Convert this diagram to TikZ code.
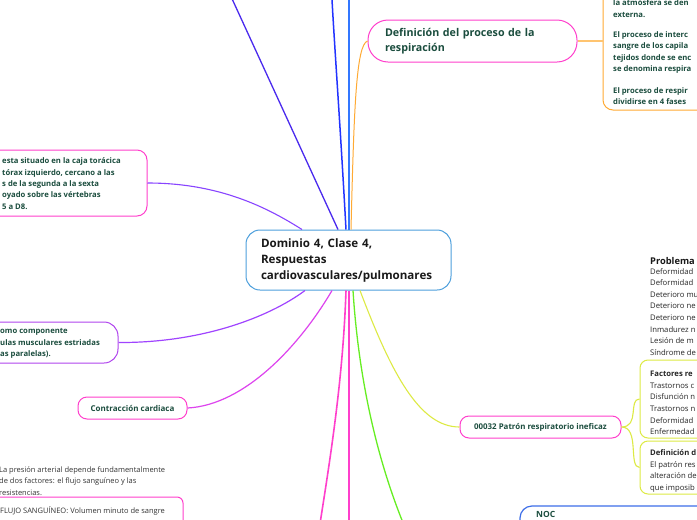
\documentclass[tikz,border=0pt]{standalone}
\usepackage{fontspec}
\setmainfont{Open Sans}
\definecolor{tg}{HTML}{1B4D3E}
\definecolor{tgray}{HTML}{333333}
\definecolor{cblue}{HTML}{4D9FDC}
\definecolor{mag}{HTML}{FF3FCC}
\definecolor{viol}{HTML}{B044EE}
\definecolor{orng}{HTML}{FFAA33}
\definecolor{ylw}{HTML}{DDEA44}
\definecolor{nocblue}{HTML}{3D6EE8}
\definecolor{indig}{HTML}{4A2AEE}
\definecolor{dblue}{HTML}{2233FF}
\definecolor{lblue}{HTML}{3377FF}
\definecolor{purp}{HTML}{8844FF}
\definecolor{violb}{HTML}{A044FF}
\definecolor{magb}{HTML}{DD44EE}
\definecolor{grn}{HTML}{66EE22}
\begin{document}
\begin{tikzpicture}[x=1pt,y=-1pt,
  box/.style={draw, rounded corners=#1, line width=1pt, inner sep=0pt},
  gtext/.style={text=tg, font=\bfseries\fontsize{7.7}{11.4}\selectfont, align=left, inner sep=0pt, anchor=west},
  rtext/.style={text=tgray, font=\fontsize{7.5}{11.4}\selectfont, align=left, inner sep=0pt, anchor=west},
  ltext/.style={text=black!85, font=\fontsize{7.7}{11.6}\selectfont, align=left, inner sep=0pt, anchor=west},
  conn/.style={line width=#1},
]
\useasboundingbox (0,0) rectangle (697,520);
\clip (0,0) rectangle (697,520);
\fill[white] (0,0) rectangle (697,520);

% free ends
\coordinate (topA) at (228,-10);
\coordinate (topB) at (331.5,-10);
\coordinate (topC) at (349,-10);
\coordinate (botA) at (319,530);
\coordinate (botB) at (349,530);
\coordinate (botC) at (406,530);

% central node
\node[box=14pt, draw=cblue, minimum width=205pt, minimum height=60pt, text width=175pt,
      align=left, font=\bfseries\fontsize{11.6}{16}\selectfont, text=black!90] (central) at (348.5,260)
      {Dominio 4, Clase 4,\\Respuestas\\cardiovasculares/pulmonares};

% top connectors
\draw[indig, conn=1.3pt] (central.north -| 338,0) -- (topA);
\draw[dblue, conn=1.5pt] (central.north -| 346,0) .. controls (340,120) and (334,40) .. (topB);
\draw[lblue, conn=1.5pt] (central.north -| 349,0) -- (topC);

% Definicion
\node[box=20pt, draw=mag, minimum width=209pt, minimum height=42pt, text width=175pt,
      align=left, font=\bfseries\fontsize{10.7}{15}\selectfont, text=tg] (def) at (472.5,41)
      {Definición del proceso de la\\respiración};
\draw[orng, conn=1pt] (central.north -| 351,0) .. controls (354,110) and (356,45) .. (def.west);

\node[box=10pt, draw=orng, minimum width=130pt, minimum height=140pt] (fases) at (668,40) {};
\draw[orng!70, conn=1.2pt] (def.east) -- (fases.west |- def.east);
\node[gtext] (f1) at (613,8.5) {la atmósfera se den\\externa.};
\node[gtext] (f2) at (613,52.5) {El proceso de interc\\sangre de los capila\\tejidos donde se enc\\se denomina respira};
\node[gtext] (f3) at (613,96) {El proceso de respir\\dividirse en 4 fases};

% heart location box
\node[box=10pt, draw=mag, minimum width=170pt, minimum height=66pt] (heart) at (62,183) {};
\node[gtext] (heartt) at (2,183.5) {esta situado en la caja torácica\\tórax izquierdo, cercano a las\\s de la segunda a la sexta\\oyado sobre las vértebras\\5 a D8.};
\draw[purp, conn=1.1pt] (heart.east) .. controls (220,183) and (268,208) .. (central.north -| 302,0);

% muscle box
\node[box=14pt, draw=viol, minimum width=148pt, minimum height=41pt] (musc) at (44,342.5) {};
\node[gtext] (musct) at (0,343.5) {omo componente\\ulas musculares estriadas\\as paralelas).};
\draw[violb, conn=1.2pt] (musc.east) .. controls (200,343) and (268,318) .. (central.south -| 305,0);

% Contraccion
\node[box=9pt, draw=mag, minimum width=109pt, minimum height=22pt,
      font=\bfseries\fontsize{8}{9}\selectfont, text=tg] (contr) at (132.5,408) {Contracción cardiaca};
\draw[magb, conn=1.2pt] (contr.east) .. controls (245,405) and (300,345) .. (central.south -| 332,0);

% bottom connectors
\draw[mag, conn=1.6pt] (central.south -| 346,0) .. controls (343,380) and (330,460) .. (botA);
\draw[mag, conn=2pt] (central.south -| 349,0) -- (botB);
\draw[grn, conn=1.3pt] (central.south -| 353,0) .. controls (360,400) and (385,480) .. (botC);

% Patron respiratorio
\node[box=9pt, draw=mag, minimum width=161pt, minimum height=22pt,
      font=\bfseries\fontsize{7.9}{9}\selectfont, text=tg] (patron) at (540.5,427) {00032 Patrón respiratorio ineficaz};
\draw[ylw, conn=1.1pt] (central.south -| 360,0) .. controls (392,375) and (420,427) .. (patron.west);

\node[box=8pt, draw=ylw, minimum width=100pt, minimum height=78pt] (fact) at (690,399) {};
\node[box=8pt, draw=ylw, minimum width=100pt, minimum height=53pt] (defd) at (690,467.5) {};
\draw[ylw, conn=1.1pt] (patron.east) .. controls (640,427) and (628,399) .. (fact.west);
\draw[ylw, conn=1.1pt] (patron.east) .. controls (640,427) and (628,467.5) .. (defd.west);

\node[ltext] (factt) at (650,403) {\textbf{Factores re}\\Trastornos c\\Disfunción n\\Trastornos n\\Deformidad\\Enfermedad};
\node[ltext] (defdt) at (650,471) {\textbf{Definición d}\\El patrón res\\alteración de\\que imposib};

\node[anchor=west, inner sep=0pt, font=\bfseries\fontsize{9.3}{10}\selectfont, text=black!90] (prob) at (650,261) {Problema};
\node[ltext] (probl) at (650,311.8) {Deformidad\\Deformidad\\Deterioro mu\\Deterioro ne\\Deterioro ne\\Inmadurez n\\Lesión de m\\Síndrome de};

% NOC
\node[box=12pt, draw=nocblue, line width=1.2pt, minimum width=240pt, minimum height=74pt] (noc) at (640,543) {};
\node[anchor=west, inner sep=0pt, font=\bfseries\fontsize{8.5}{10}\selectfont, text=tg] (noct) at (536,514.5) {NOC};

% bottom left
\node[rtext] (pres) at (-1,481) {La presión arterial depende fundamentalmente\\de dos factores: el flujo sanguíneo y las\\resistencias.};
\node[box=6pt, draw=mag, minimum width=213pt, minimum height=83pt] (flujo) at (76.5,538.5) {};
\node[rtext] (flujot) at (0,511) {FLUJO SANGUÍNEO: Volumen minuto de sangre};
\end{tikzpicture}
\end{document}
